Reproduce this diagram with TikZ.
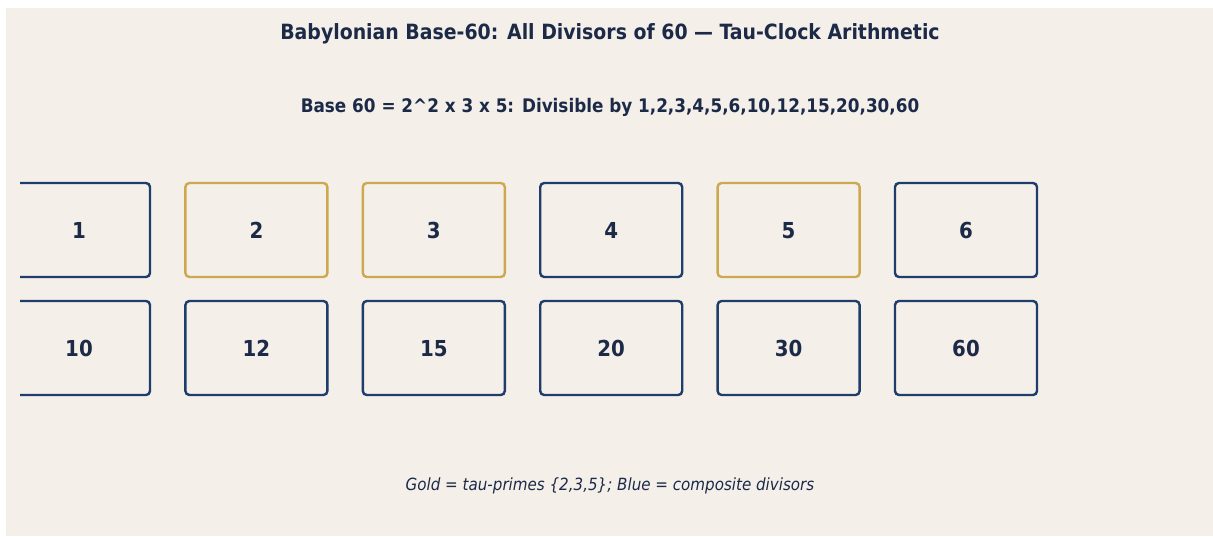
\documentclass[tikz,border=0pt]{standalone}
\usepackage{fontspec}
\setmainfont{DejaVu Sans Condensed}
\definecolor{paper}{HTML}{F4F0E9}
\definecolor{ink}{HTML}{1C2A48}
\definecolor{navy}{HTML}{1E3D6B}
\definecolor{gold}{HTML}{CDA850}
\begin{document}
\begin{tikzpicture}[x=1pt, y=-1pt,
    divbox/.style={draw=navy, line width=2.4pt, rounded corners=4pt, minimum width=142pt, minimum height=94pt, inner sep=0pt, text=ink, text height=16pt, text depth=0pt, font=\fontsize{22}{26}\selectfont\bfseries},
    primebox/.style={divbox, draw=gold}]
  \useasboundingbox (0,0) rectangle (1213,536);
  \fill[paper] (6,8) rectangle (1213,536);
  \node[text=ink, font=\fontsize{21}{25}\selectfont\bfseries] (title) at (610,34) {Babylonian Base-60: All Divisors of 60 — Tau-Clock Arithmetic};
  \node[text=ink, font=\fontsize{18.7}{22}\selectfont\bfseries] (sub) at (610,107) {Base 60 = 2\textasciicircum2 x 3 x 5: Divisible by 1,2,3,4,5,6,10,12,15,20,30,60};
  \begin{scope}
    \clip (20,150) rectangle (1213,420);
    \foreach \d/\style [count=\i from 0] in {1/divbox,2/primebox,3/primebox,4/divbox,5/primebox,6/divbox} {
      \node[\style] (d\d) at (79+177.4*\i,230) {\d};
    }
    \foreach \d [count=\i from 0] in {10,12,15,20,30,60} {
      \node[divbox] (d\d) at (79+177.4*\i,348) {\d};
    }
  \end{scope}
  \node[text=ink, font=\fontsize{16.8}{20}\selectfont\itshape] (legend) at (610,485.5) {Gold = tau-primes \{2,3,5\}; Blue = composite divisors};
\end{tikzpicture}
\end{document}
